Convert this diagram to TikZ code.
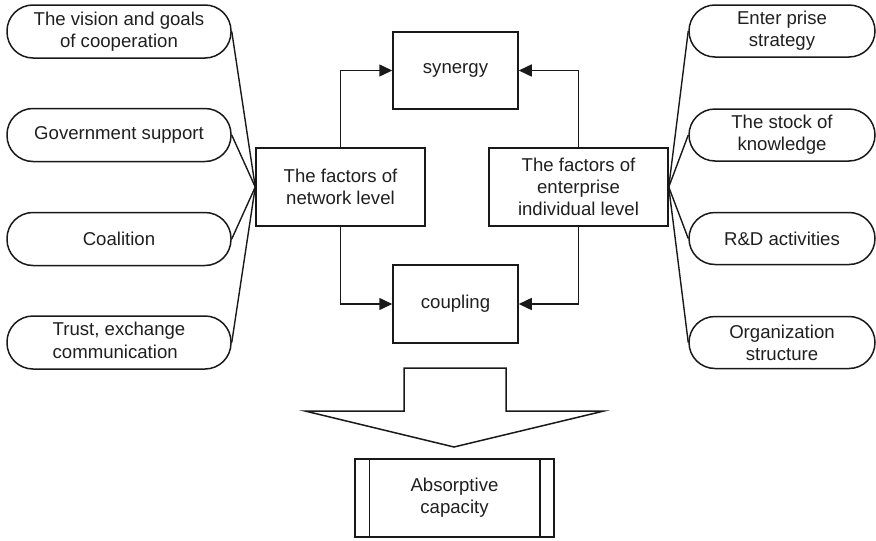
\documentclass[tikz,border=0pt]{standalone}
\usepackage{fontspec}
\setmainfont{Liberation Sans}
\usetikzlibrary{arrows.meta}

\begin{document}
\begin{tikzpicture}[x=1pt,y=-1pt,
  every node/.style={font=\fontsize{18.6}{22.3}\selectfont, text=black!88},
  line/.style={line width=1.5pt, draw=black!90},
  pillL/.style={line, rectangle, rounded corners=26pt, minimum width=224pt, minimum height=53pt, inner sep=0pt, align=center},
  pillR/.style={line, rectangle, rounded corners=26pt, minimum width=186pt, minimum height=52pt, inner sep=0pt, align=center},
  box/.style={line, rectangle, inner sep=0pt, align=center},
  link/.style={line, line width=1.4pt},
  arr/.style={line, -{Triangle[length=13pt,width=12pt]}}
]
\useasboundingbox (0,0) rectangle (876,541);

% left-hand factors
\node[pillL] (l1) at (119,31.5) {The vision and goals\\of cooperation};
\node[pillL] (l2) at (119,135) {Government support};
\node[pillL] (l3) at (119,239) {Coalition};
\node[pillL] (l4) at (119,342.5) {\begin{tabular}{@{}l@{}}Trust, exchange\\communication\end{tabular}};

% right-hand factors
\node[pillR] (r1) at (782,31) {Enter prise\\strategy};
\node[pillR] (r2) at (782,135) {The stock of\\knowledge};
\node[pillR] (r3) at (782,238.5) {R\&D activities};
\node[pillR] (r4) at (782,342.5) {Organization\\structure};

% level boxes
\node[box, minimum width=169pt, minimum height=78pt] (net) at (340.5,187) {The factors of\\network level};
\node[box, minimum width=179pt, minimum height=78pt] (ent) at (578.5,187) {The factors of\\enterprise\\individual level};

% synergy / coupling
\node[box, minimum width=125pt, minimum height=77pt] (syn) at (455.5,70.5) {synergy};
\node[box, minimum width=125pt, minimum height=78pt] (cou) at (455.5,304) {coupling};

% links from factors to level boxes
\foreach \p in {l1,l2,l3,l4} \draw[link] (\p.east) -- (net.west);
\foreach \p in {r1,r2,r3,r4} \draw[link] (\p.west) -- (ent.east);

% arrows into synergy and coupling
\draw[arr] (net.north) |- (syn.west);
\draw[arr] (net.south) |- (cou.west);
\draw[arr] (ent.north) |- (syn.east);
\draw[arr] (ent.south) |- (cou.east);

% big downward block arrow
\draw[line, line join=miter] (404,368) -- (506,368) -- (506,411) -- (604,411) -- (454,447) -- (305,411) -- (404,411) -- cycle;

% result box with side bars
\node[box, minimum width=199pt, minimum height=78pt] (abs) at (454.5,498) {Absorptive\\capacity};
\draw[line] ([xshift=15pt]abs.north west) -- ([xshift=15pt]abs.south west);
\draw[line] ([xshift=-15pt]abs.north east) -- ([xshift=-15pt]abs.south east);
\end{tikzpicture}
\end{document}
